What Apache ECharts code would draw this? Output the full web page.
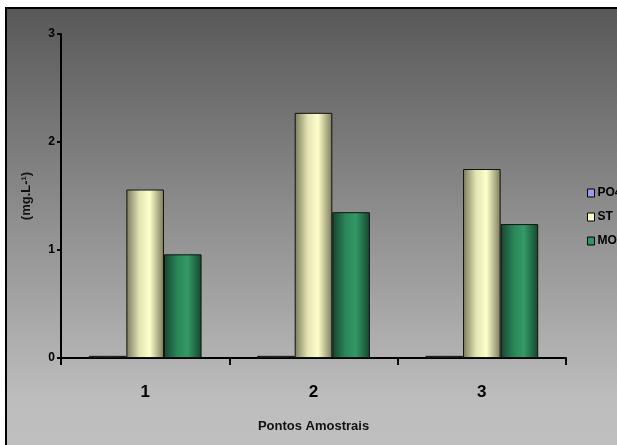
<!DOCTYPE html>
<html>
<head>
<meta charset="utf-8">
<script src="https://cdn.jsdelivr.net/npm/echarts@6/dist/echarts.min.js"></script>
<style>
  html, body { margin: 0; padding: 0; background: #fff; }
  #chart { width: 617px; height: 445px; }
</style>
</head>
<body>
<div id="chart"></div>
<script>
// Sampling points and measured concentrations (mg/L)
const categories = ['1', '2', '3'];
const po4Values = [0.02, 0.02, 0.02];
const stValues = [1.56, 2.27, 1.75];
const moValues = [0.96, 1.35, 1.24];
const yTicks = { min: 0, max: 3, interval: 1 };

const FONT = '"Liberation Sans", Arial, sans-serif';

// Horizontal shading so each bar reads like a cylinder
function shade(edge, mid, light) {
  return {
    type: 'linear', x: 0, y: 0, x2: 1, y2: 0,
    colorStops: [
      { offset: 0, color: edge },
      { offset: 0.35, color: mid },
      { offset: 0.62, color: light },
      { offset: 1, color: edge }
    ]
  };
}

const chart = echarts.init(document.getElementById('chart'), null, { renderer: 'canvas' });

const barStyle = (fill) => ({ color: fill, borderColor: '#111', borderWidth: 1 });

chart.setOption({
  backgroundColor: '#ffffff',
  animation: false,
  graphic: [{
    type: 'rect',
    z: -10,
    silent: true,
    shape: { x: 6, y: 8, width: 640, height: 460 },
    style: {
      fill: {
        type: 'linear', x: 0, y: 0, x2: 0, y2: 1,
        colorStops: [
          { offset: 0, color: '#585858' },
          { offset: 0.85, color: '#bdbdbd' },
          { offset: 1, color: '#c0c0c0' }
        ]
      },
      stroke: '#000',
      lineWidth: 2
    }
  }],
  grid: { left: 61, top: 34, right: 51, bottom: 87, containLabel: false },
  legend: {
    orient: 'vertical',
    left: 582,
    top: 182,
    itemWidth: 7,
    itemHeight: 8,
    itemGap: 12,
    icon: 'rect',
    textStyle: { fontFamily: FONT, fontWeight: 'bold', fontSize: 12, color: '#000', padding: [0, 0, 0, -2] },
    data: [
      { name: 'PO4', itemStyle: { color: '#9a9af0', borderColor: '#000', borderWidth: 1 } },
      { name: 'ST', itemStyle: { color: '#ffffcc', borderColor: '#000', borderWidth: 1 } },
      { name: 'MO', itemStyle: { color: '#2f9463', borderColor: '#000', borderWidth: 1 } }
    ]
  },
  xAxis: {
    type: 'category',
    data: categories,
    name: 'Pontos Amostrais',
    nameLocation: 'middle',
    nameGap: 62,
    nameTextStyle: { fontFamily: FONT, fontWeight: 'bold', fontSize: 13, color: '#111' },
    axisLine: { lineStyle: { color: '#000', width: 2 } },
    axisTick: { show: true, length: 7, lineStyle: { color: '#000', width: 2 } },
    axisLabel: { fontFamily: FONT, fontWeight: 'bold', fontSize: 17, color: '#000', margin: 26 },
    splitLine: { show: false }
  },
  yAxis: {
    type: 'value',
    min: yTicks.min,
    max: yTicks.max,
    interval: yTicks.interval,
    name: '(mg.L-¹)',
    nameLocation: 'middle',
    nameGap: 28,
    nameTextStyle: { fontFamily: FONT, fontWeight: 'bold', fontSize: 13, color: '#111' },
    axisLine: { show: true, lineStyle: { color: '#000', width: 2 } },
    axisTick: { show: true, length: 4, lineStyle: { color: '#000', width: 2 } },
    axisLabel: { fontFamily: FONT, fontWeight: 'bold', fontSize: 12, color: '#000', margin: 6 },
    splitLine: { show: false }
  },
  series: [
    {
      name: 'PO4', type: 'bar', data: po4Values,
      barGap: '0%', barCategoryGap: '33%',
      itemStyle: barStyle(shade('#3a3a80', '#7c7ce0', '#9a9af5'))
    },
    {
      name: 'ST', type: 'bar', data: stValues,
      barGap: '0%', barCategoryGap: '33%',
      itemStyle: barStyle(shade('#7a7a5c', '#e4e4b4', '#ffffcc'))
    },
    {
      name: 'MO', type: 'bar', data: moValues,
      barGap: '0%', barCategoryGap: '33%',
      itemStyle: barStyle(shade('#17452e', '#2a8558', '#329a66'))
    }
  ]
});
</script>
</body>
</html>
